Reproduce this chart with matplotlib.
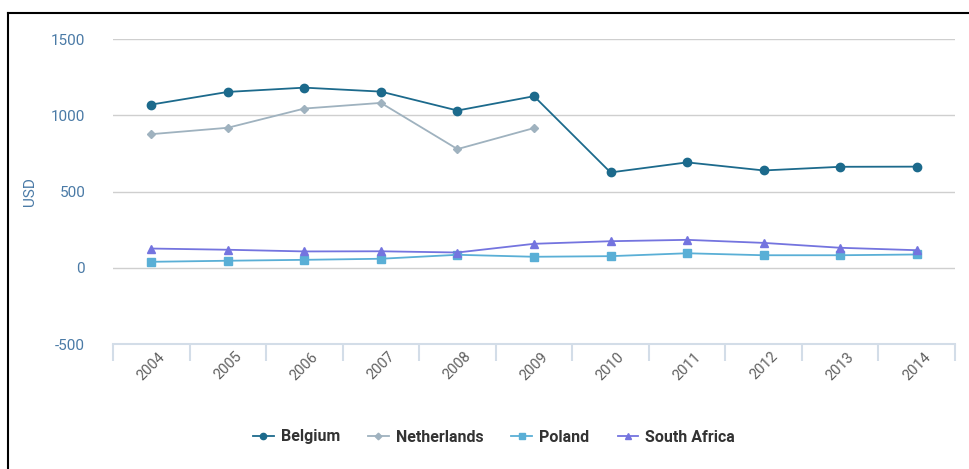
import numpy as np
import matplotlib.pyplot as plt
from matplotlib.lines import Line2D

years = ["2004", "2005", "2006", "2007", "2008", "2009", "2010", "2011", "2012", "2013", "2014"]
belgium = [1070, 1153, 1181, 1155, 1031, 1125, 625, 691, 638, 662, 663]
netherlands = [876, 918, 1044, 1081, 778, 916, None, None, None, None, None]
poland = [39, 46, 52, 59, 85, 72, 76, 95, 82, 82, 87]
south_africa = [126, 118, 107, 108, 100, 157, 174, 183, 163, 131, 115]

W, H = 969, 469
fig = plt.figure(figsize=(W / 100, H / 100), dpi=100)
plt.rcParams['font.family'] = ['Roboto', 'DejaVu Sans']

ax = fig.add_axes([113 / W, 1 - 344 / H, (955 - 113) / W, (344 - 39) / H])

x = np.arange(len(years))
nl = np.array([np.nan if v is None else v for v in netherlands], dtype=float)

ax.plot(x, belgium, color='#1c6a8c', marker='o', markersize=6, lw=1.3, label='Belgium', zorder=5)
ax.plot(x, nl, color='#9fb2bf', marker='D', markersize=4.5, lw=1.3, label='Netherlands', zorder=4)
ax.plot(x, poland, color='#5aafd6', marker='s', markersize=6, lw=1.3, label='Poland', zorder=3)
ax.plot(x, south_africa, color='#7474df', marker='^', markersize=6, lw=1.3, label='South Africa', zorder=3)

ax.set_xlim(-0.5, len(years) - 0.5)
ax.set_ylim(-500, 1500)
ax.set_yticks([-500, 0, 500, 1000, 1500])
ax.set_yticklabels(['-500', '0', '500', '1000', '1500'])
ax.grid(axis='y', color='#cfcfcf', lw=1)
ax.set_axisbelow(True)
for s in ['top', 'right', 'left']:
    ax.spines[s].set_visible(False)
ax.spines['bottom'].set_color('#d3dde8')
ax.spines['bottom'].set_linewidth(1.5)

ax.set_xticks(x)
ax.set_xticklabels(years, rotation=45, ha='center', fontsize=10.5, color='#606060')
ax.set_xticks(np.arange(-0.5, len(years)), minor=True)
ax.tick_params(axis='x', which='major', length=0, pad=4)
ax.tick_params(axis='x', which='minor', length=12, width=1.5, color='#d3dde8')
ax.tick_params(axis='y', length=0, pad=20, labelsize=11, labelcolor='#4a7aa6')

ax.set_ylabel('USD', color='#4a7aa6', fontsize=11)
ax.yaxis.set_label_coords(-76 / (955 - 113), 0.5)

fig.legend(loc='center', bbox_to_anchor=(494 / W, 1 - 437 / H), ncol=4, frameon=False,
           prop={'weight': 'bold', 'size': 11.5}, labelcolor='#333333',
           handlelength=1.3, columnspacing=1.75, handletextpad=0.45, markerscale=0.75)

# frame lines of the page
fig.add_artist(Line2D([8 / W, 1.0], [1 - 13 / H, 1 - 13 / H], color='black', lw=1.5))
fig.add_artist(Line2D([8 / W, 8 / W], [1 - 13 / H, 0.0], color='black', lw=1.5))

fig.savefig('out.png', dpi=100)
